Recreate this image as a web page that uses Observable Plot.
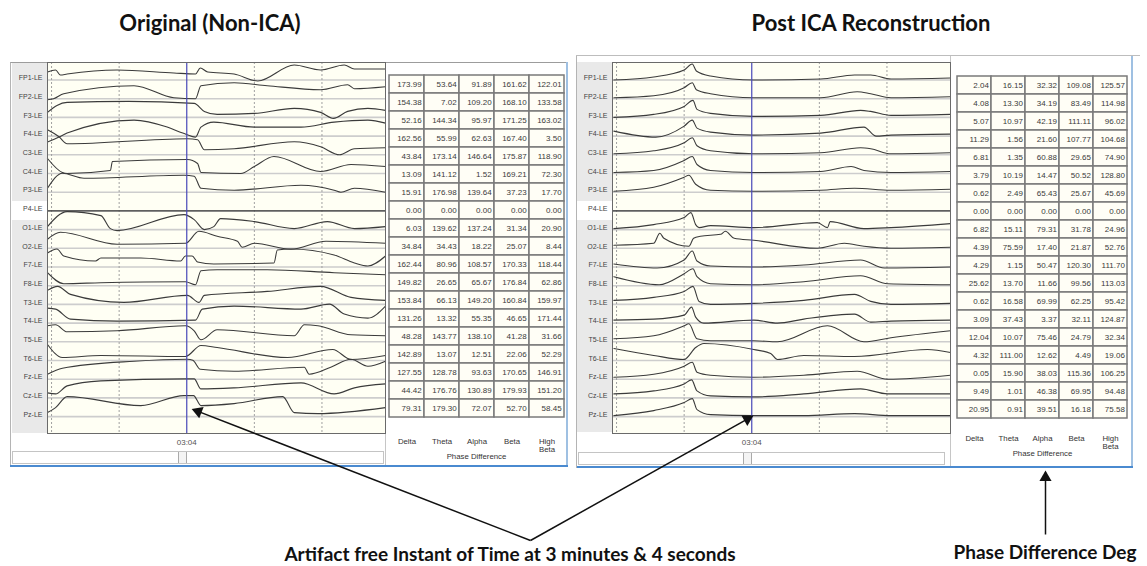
<!DOCTYPE html>
<html><head><meta charset="utf-8">
<script src="https://cdn.jsdelivr.net/npm/d3@7"></script>
<script src="https://cdn.jsdelivr.net/npm/@observablehq/plot@0.6"></script>
<style>
html,body{margin:0;padding:0;background:#fff;}
#page{position:relative;width:1147px;height:566px;overflow:hidden;font-family:"Liberation Sans",Arial,sans-serif;}
</style></head><body><div id="page"></div>
<script>
// ---------- DATA ----------
const channels = ["FP1-LE","FP2-LE","F3-LE","F4-LE","C3-LE","C4-LE","P3-LE","P4-LE","O1-LE","O2-LE",
  "F7-LE","F8-LE","T3-LE","T4-LE","T5-LE","T6-LE","Fz-LE","Cz-LE","Pz-LE"];
const bands = ["Delta","Theta","Alpha","Beta","High Beta"];
const windowStart = 181.94;   // seconds (left edge of the EEG page)
const windowSec = 5;
const cursorSec = 184;        // 03:04
const gridSecs = [182,183,185,186];

// EEG traces: [seconds from window start, amplitude (µV-like units)] per channel
const origTraces = [
  [[0,8],[0.12,10],[0.19,5],[0.29,6],[1.03,10],[1.87,7],[2.19,6],[2.26,12],[2.37,8],[2.76,6],[3.11,-1],[3.65,15],[4.04,10],[4.39,15],[4.54,11],[5,11]],
  [[0,-1],[0.09,0],[0.24,5],[1.28,13],[1.87,1],[2.19,0],[2.27,13],[2.76,16],[3.25,13],[4.04,9],[4.44,14],[4.54,10],[5,12]],
  [[0,5],[0.14,12],[0.29,15],[1.2,16],[2.17,14],[2.32,6],[2.51,3],[3.06,4],[3.65,9],[4.04,5],[4.23,-1],[4.44,6],[4.74,9],[5,7]],
  [[0,-6],[0.17,-1],[0.29,3],[1.28,16],[1.77,9],[2.0,3],[2.19,-1],[2.27,9],[2.46,14],[3.06,9],[3.75,9],[4.24,14],[4.74,16],[5,13]],
  [[0,25],[0.17,18],[0.29,11],[2.07,16],[2.22,15],[2.32,5],[2.76,6],[3.65,13],[4.04,8],[4.32,0],[4.54,6],[5,7]],
  [[0,15],[0.22,1],[0.29,0],[0.93,3],[0.96,12],[2.07,14],[2.22,10],[2.27,1],[2.86,0],[3.06,7],[3.35,17],[4.04,2],[4.49,9],[5,7]],
  [[0,4],[0.22,19],[0.54,14],[2.02,17],[2.17,16],[2.27,4],[2.76,2],[3.75,7],[4.24,2],[4.34,0],[4.54,4],[5,0]],
  [[0,0],[5,0]],
  [[0,3],[0.29,18],[0.79,14],[0.93,1],[1.03,-1],[2.02,15],[2.17,10],[2.32,0],[2.46,3],[2.56,11],[3.06,8],[3.65,1],[4.14,8],[4.54,1],[5,3]],
  [[0,9],[0.19,16],[1.03,4],[2.04,5],[2.24,17],[2.51,12],[2.81,7],[2.88,1],[3.06,5],[3.6,-1],[4.12,7],[5,5]],
  [[0,14],[0.14,18],[0.24,11],[0.71,6],[0.79,9],[1.38,9],[1.97,6],[2.04,11],[2.14,11],[2.22,5],[2.46,3],[3.35,4],[3.4,17],[3.6,18],[4.24,12],[4.54,4],[4.74,1],[5,11]],
  [[0,13],[0.24,2],[0.79,3],[2.04,4],[2.19,1],[2.27,15],[2.51,16],[3.25,16],[4.24,13],[5,11]],
  [[0,14],[0.15,18],[0.34,10],[1.13,2],[2.07,9],[2.24,2],[2.32,9],[3.25,13],[4.04,18],[4.49,7],[5,4]],
  [[0,15],[0.12,14],[0.34,4],[1.03,2],[2.19,3],[2.29,14],[2.76,17],[3.75,14],[4.17,19],[4.39,9],[4.74,5],[5,17]],
  [[0,16],[0.12,17],[0.29,10],[1.03,11],[2.04,16],[2.17,11],[2.27,2],[2.51,12],[3.65,6],[3.8,17],[4.0,16],[4.49,7],[5,6]],
  [[0,16],[0.22,3],[0.79,5],[2.04,4],[2.27,15],[2.51,13],[3.55,3],[4.22,11],[4.49,1],[5,5]],
  [[0,5],[0.22,11],[1.28,18],[2.07,20],[2.15,19],[2.26,10],[2.76,8],[3.8,12],[3.87,5],[4.19,12],[4.49,20],[4.74,13],[5,18]],
  [[0,5],[0.12,4],[0.29,12],[0.79,17],[2.04,19],[2.17,19],[2.27,9],[2.76,10],[3.75,15],[4.24,4],[4.54,10],[5,14]],
  [[0,4],[0.12,9],[0.29,20],[1.38,11],[2.02,21],[2.16,21],[2.27,11],[2.76,13],[3.48,20],[3.65,4],[4.0,3],[5,9]]
];
const icaTraces = [
  [[0.02,0],[0.61,3],[1.06,10],[1.18,16],[1.24,9],[1.45,4],[2.09,0],[3.08,1],[3.58,5],[3.82,5],[4.12,1],[5,2]],
  [[0.02,1],[0.61,3],[1.06,11],[1.18,16],[1.24,9],[1.45,5],[2.09,1],[3.08,1],[3.62,7],[3.82,5],[4.12,1],[5,2]],
  [[0.02,0],[0.61,3],[1.06,11],[1.19,17],[1.25,8],[1.45,4],[2.09,1],[3.08,2],[3.67,7],[3.82,6],[4.12,2],[5,3]],
  [[0.02,5],[0.64,-1],[1.06,10],[1.18,16],[1.25,8],[1.45,4],[2.09,1],[3.08,3],[3.72,9],[3.9,0],[4.12,1],[5,2]],
  [[0.02,1],[0.61,4],[1.06,12],[1.18,17],[1.25,9],[1.45,4],[2.09,1],[3.08,2],[3.67,7],[3.82,6],[4.12,1],[5,2]],
  [[0.02,1],[0.61,3],[1.06,13],[1.18,17],[1.25,9],[1.45,3],[2.09,1],[3.08,2],[3.53,7],[3.72,3],[4.12,1],[5,2]],
  [[0.02,1],[0.61,5],[1.06,15],[1.13,17],[1.23,8],[1.45,2],[2.09,1],[3.08,2],[3.58,4],[4.12,2],[5,3]],
  [[0,0],[5,0]],
  [[0.02,1],[0.61,5],[1.06,12],[1.16,17],[1.23,5],[1.28,2],[1.45,4],[2.09,2],[3.03,7],[3.18,2],[3.22,8],[3.72,1],[4.12,2],[5,6]],
  [[0.02,3],[0.61,5],[0.7,15],[0.76,10],[1.13,2],[1.2,10],[1.3,12],[1.6,14],[1.67,17],[1.8,10],[2.09,8],[3.03,0],[3.43,5],[3.72,2],[4.12,0],[5,1]],
  [[0.02,3],[0.66,-1],[1.06,7],[1.18,16],[1.25,6],[1.45,1],[2.09,0],[2.83,2],[3.67,7],[4.02,-1],[5,0]],
  [[0.02,9],[0.69,1],[1.06,12],[1.19,17],[1.25,9],[1.45,2],[2.09,1],[2.83,4],[3.67,10],[4.07,2],[5,1]],
  [[0.02,4],[0.61,7],[1.06,13],[1.19,18],[1.28,3],[1.45,0],[2.09,1],[2.83,4],[3.58,10],[3.82,3],[4.12,0],[5,1]],
  [[0.02,3],[0.61,4],[1.06,8],[1.17,16],[1.23,6],[1.35,0],[2.09,3],[2.44,0],[2.83,4],[3.58,9],[3.82,1],[4.12,2],[5,3]],
  [[0.02,3],[0.61,6],[1.06,16],[1.13,18],[1.25,3],[1.45,1],[2.09,1],[2.44,0],[3.18,16],[3.72,0],[4.12,4],[5,11]],
  [[0.02,12],[0.61,5],[1.06,1],[1.23,13],[1.35,17],[2.09,11],[2.34,7],[2.44,1],[2.83,5],[3.58,4],[4.66,11],[5,8]],
  [[0.02,2],[0.61,5],[1.06,13],[1.18,17],[1.25,7],[1.45,4],[2.09,2],[2.83,4],[3.62,8],[4.07,0],[5,4]],
  [[0.02,4],[0.61,7],[1.06,14],[1.17,18],[1.25,7],[1.45,2],[2.09,1],[2.83,4],[3.67,9],[4.07,4],[5,4]],
  [[0.02,1],[0.61,6],[1.06,14],[1.18,18],[1.25,7],[1.45,2],[2.09,1],[2.83,1],[3.58,3],[4.12,1],[5,1]]
];

// Phase difference tables (degrees), rows = channels, columns = bands
const origPhase = [
  [173.99,53.64,91.89,161.62,122.01],[154.38,7.02,109.20,168.10,133.58],[52.16,144.34,95.97,171.25,163.02],
  [162.56,55.99,62.63,167.40,3.50],[43.84,173.14,146.64,175.87,118.90],[13.09,141.12,1.52,169.21,72.30],
  [15.91,176.98,139.64,37.23,17.70],[0,0,0,0,0],[6.03,139.62,137.24,31.34,20.90],[34.84,34.43,18.22,25.07,8.44],
  [162.44,80.96,108.57,170.33,118.44],[149.82,26.65,65.67,176.84,62.86],[153.84,66.13,149.20,160.84,159.97],
  [131.26,13.32,55.35,46.65,171.44],[48.28,143.77,138.10,41.28,31.66],[142.89,13.07,12.51,22.06,52.29],
  [127.55,128.78,93.63,170.65,146.91],[44.42,176.76,130.89,179.93,151.20],[79.31,179.30,72.07,52.70,58.45]
];
const icaPhase = [
  [2.04,16.15,32.32,109.08,125.57],[4.08,13.30,34.19,83.49,114.98],[5.07,10.97,42.19,111.11,96.02],
  [11.29,1.56,21.60,107.77,104.68],[6.81,1.35,60.88,29.65,74.90],[3.79,10.19,14.47,50.52,128.80],
  [0.62,2.49,65.43,25.67,45.69],[0,0,0,0,0],[6.82,15.11,79.31,31.78,24.96],[4.39,75.59,17.40,21.87,52.76],
  [4.29,1.15,50.47,120.30,111.70],[25.62,13.70,11.66,99.56,113.03],[0.62,16.58,69.99,62.25,95.42],
  [3.09,37.43,3.37,32.11,124.87],[12.04,10.07,75.46,24.79,32.34],[4.32,111.00,12.62,4.49,19.06],
  [0.05,15.90,38.03,115.36,106.25],[9.49,1.01,46.38,69.95,94.48],[20.95,0.91,39.51,16.18,75.58]
];

const titles = ["Original (Non-ICA)", "Post ICA Reconstruction"];
const calloutText = "Artifact free Instant of Time at 3 minutes & 4 seconds";
const degText = "Phase Difference Deg";

// ---------- HELPERS ----------
const S = 18.7;  // amplitude units per channel row
const page = document.getElementById("page");
const FONT = "'Liberation Sans', Arial, sans-serif";
function box(x,y,w,h,css){const d=document.createElement("div");d.style.cssText=`position:absolute;left:${x}px;top:${y}px;width:${w}px;height:${h}px;box-sizing:border-box;${css}`;page.appendChild(d);return d;}
function place(node,x,y){const d=document.createElement("div");d.style.cssText=`position:absolute;left:${x}px;top:${y}px;line-height:0;`;d.appendChild(node);page.appendChild(d);return d;}
function label(text,cx,cy,css){const d=document.createElement("div");d.textContent=text;d.style.cssText=`position:absolute;left:${cx}px;top:${cy}px;transform:translate(-50%,-50%);white-space:nowrap;${css}`;page.appendChild(d);return d;}
const fmtTime = d => `${String(Math.floor(d/60)).padStart(2,"0")}:${String(Math.round(d%60)).padStart(2,"0")}`;

function eegChart(traces){
  const rows=[];
  traces.forEach((pts,i)=>pts.forEach(([r,v])=>rows.push({ch:channels[i],i,t:windowStart+r,v})));
  const base = channels.map((c,i)=>-i*S);
  return Plot.plot({
    width:373,height:391,marginLeft:35,marginRight:0,marginTop:0,marginBottom:20,
    style:{fontFamily:FONT,background:"transparent",overflow:"visible"},
    x:{domain:[windowStart,windowStart+windowSec]},
    y:{domain:[-353.5,17.5]},
    marks:[
      Plot.frame({fill:"#fffff4"}),
      Plot.ruleY(base,{stroke:"#cdcdcd",strokeWidth:1.6}),
      Plot.ruleX(gridSecs,{stroke:"#a0a0a0",strokeDasharray:"2,2"}),
      Plot.line(rows,{x:"t",y:d=>-d.i*S+d.v,z:"ch",stroke:"#3b3b3b",strokeWidth:1.1,curve:"monotone-x"}),
      Plot.ruleX([cursorSec],{stroke:"#4848b8",strokeWidth:1.2}),
      Plot.frame({stroke:"#6a6a6a"}),
      Plot.axisY({ticks:base,tickFormat:d=>channels[Math.round(-d/S)],tickSize:0,tickPadding:5,fontSize:7,fill:"#444",dy:-2,label:null}),
      Plot.axisX({ticks:[cursorSec],tickFormat:fmtTime,tickSize:0,tickPadding:6,fontSize:8,fill:"#555",label:null})
    ]
  });
}
function tableChart(values,ml,mt,tp,ld){
  const data=[];
  values.forEach((row,i)=>row.forEach((v,j)=>data.push({ch:channels[i],band:bands[j],v})));
  const W=183, mr=4, cw=(W-ml-mr)/bands.length;
  return Plot.plot({
    width:W,height:403,marginLeft:ml,marginRight:mr,marginTop:mt,marginBottom:42,
    style:{fontFamily:FONT,background:"transparent",overflow:"visible"},
    x:{domain:bands,padding:0,axis:null},y:{domain:channels,padding:0,axis:null},
    marks:[
      Plot.cell(data,{x:"band",y:"ch",fill:"#fffef6",stroke:"#7a7a7a",strokeWidth:1.5}),
      Plot.text(data,{x:"band",y:"ch",text:d=>d.v.toFixed(2),textAnchor:"end",dx:cw/2-3,fontSize:8,fill:"#3a3a3a"}),
      Plot.axisX({tickSize:0,tickPadding:tp,fontSize:7.8,fill:"#333",tickFormat:d=>d==="High Beta"?"High\nBeta":d,label:null}),
      Plot.text(["Phase Difference"],{text:d=>d,frameAnchor:"bottom",dy:ld,fontSize:7.8,fill:"#333"})
    ]
  });
}

// ---------- LEFT PANEL ----------
box(10,62,558,405,"background:#fff;border-left:1px solid #b4b4b4;border-top:1px solid #9c9c9c;");
box(12,63,35,370,"background:#e9e9e9;");
box(385,63,1,403,"background:#c6c6c6;");
box(566,62,2,405,"background:#9fc0e2;");
box(10,465,558,2,"background:#4a8ad0;");
box(12,451,372,13,"background:#fff;border:1px solid #c4c4c4;");
box(178,452,9,11,"background:#f4f4f4;border-left:1px solid #aaa;border-right:1px solid #aaa;");
const eegL = eegChart(origTraces);
const yL = eegL.scale("y"), xL = eegL.scale("x");
box(12,62+yL.apply(-7*S)-S/2,35,S,"background:#fff;");
place(eegL,12,62);
place(tableChart(origPhase,3,5,14,34),385,63);

// ---------- RIGHT PANEL ----------
box(576,55,564,1,"background:#bdbdbd;");
box(576,56,557,412,"background:#fff;border-left:1px solid #b4b4b4;");
box(577,62,35,370,"background:#e9e9e9;");
box(950,56,1,412,"background:#c6c6c6;");
box(1131,56,2,412,"background:#9fc0e2;");
box(577,466,556,2,"background:#4a8ad0;");
box(578,452,367,13,"background:#fff;border:1px solid #c4c4c4;");
box(743,453,9,11,"background:#f4f4f4;border-left:1px solid #aaa;border-right:1px solid #aaa;");
const eegR = eegChart(icaTraces);
const yR = eegR.scale("y"), xR = eegR.scale("x");
box(577,62+yR.apply(-7*S)-S/2,35,S,"background:#fff;");
place(eegR,577,62);
place(tableChart(icaPhase,5,8,12,32),950,62);

// ---------- TEXT ----------
const TF = "font-family:Lato,'Open Sans',sans-serif;font-weight:700;color:#111;";
label(titles[0],210,22,TF+"font-size:22px;");
label(titles[1],871,22,TF+"font-size:22px;");
label(calloutText,510,553,TF+"font-size:19px;");
label(degText,1045,551,TF+"font-size:19px;");

// ---------- ANNOTATION ARROWS ----------
const apex = [530,540];
const pz = channels.indexOf("Pz-LE");
const arrows = [
  {x1:apex[0],y1:apex[1],x2:12+xL.apply(cursorSec+0.1),y2:62+yL.apply(-pz*S+7)},
  {x1:apex[0],y1:apex[1],x2:577+xR.apply(cursorSec),y2:62+yR.apply(-pz*S)},
  {x1:1045,y1:534,x2:1045,y2:472}
];
const heads = arrows.map(a=>{
  const dx=a.x2-a.x1, dy=a.y2-a.y1, L=Math.hypot(dx,dy), back=5;
  return {x:a.x2-dx/L*back, y:a.y2-dy/L*back, rot:Math.atan2(dx,-dy)*180/Math.PI};
});
const overlay = Plot.plot({
  width:1147,height:566,margin:0,
  style:{background:"transparent",overflow:"visible"},
  x:{domain:[0,1147],range:[0,1147],axis:null},
  y:{domain:[0,566],range:[0,566],axis:null},
  marks:[
    Plot.link(arrows,{x1:"x1",y1:"y1",x2:"x2",y2:d=>d.y2,stroke:"#111",strokeWidth:1.5}),
    Plot.dot(heads,{x:"x",y:"y",rotate:"rot",symbol:"triangle",r:4.5,fill:"#111",stroke:"none"})
  ]
});
const ovd = place(overlay,0,0); ovd.style.pointerEvents="none";
</script></body></html>
